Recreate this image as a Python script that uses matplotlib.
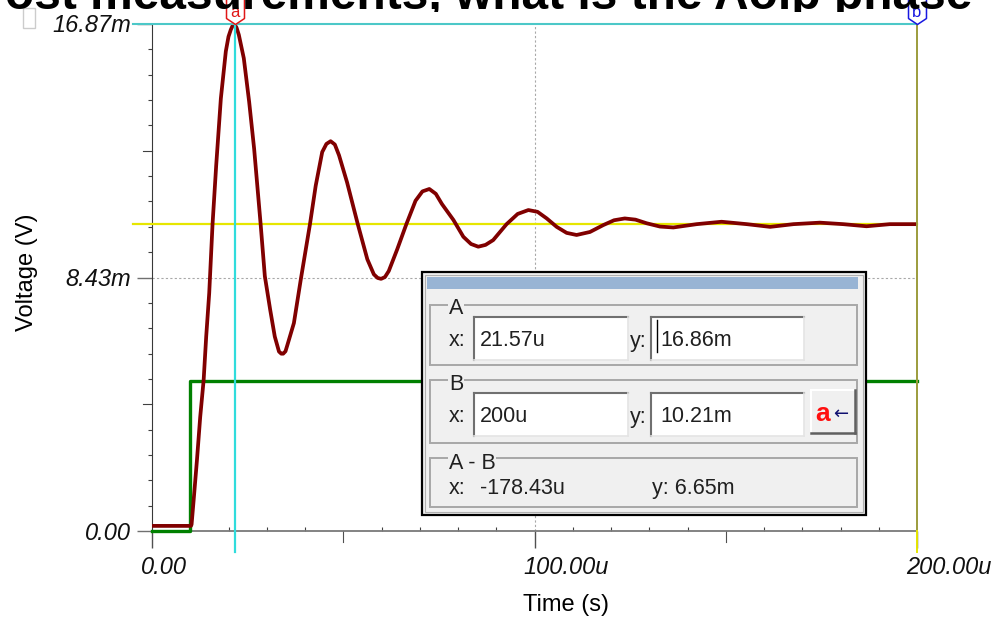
import numpy as np
import matplotlib
matplotlib.use('Agg')
from matplotlib import pyplot as plt
from matplotlib import transforms as mtrans
from matplotlib.patches import Rectangle
from matplotlib.lines import Line2D
from matplotlib.path import Path

#input step (green) and amplifier output (dark red), time in us, voltage in mV
t_in = [0, 9.9, 200]
v_in = [0, 5.0, 5.0]

t_out = [0, 10.2, 10.35, 10.87, 11.74, 12.6, 13.5, 14.17, 14.96, 15.83, 16.78, 18.0, 19.3,
         20.0, 20.6, 21.1, 21.57, 22.1, 22.7, 24.0, 25.4, 26.7, 28.4, 29.5, 30.9, 32.1, 33.2,
         33.8, 34.3, 34.9, 35.4, 37.1, 38.9, 41.3, 42.8, 44.5, 45.6, 46.7, 47.8, 48.9, 51.0,
         53.8, 56.3, 58.0, 59.0, 59.9, 60.9, 61.9, 64.1, 66.5, 68.9, 70.7, 72.5, 74.2, 75.8,
         78.8, 81.4, 83.4, 85.3, 87.2, 89.2, 92.7, 95.6, 98.4, 100.8, 103.2, 105.8, 108.4,
         111.0, 114.5, 118.0, 120.8, 123.6, 126.4, 129.3, 132.8, 136.3, 142.4, 148.9, 155.5,
         161.6, 167.7, 174.6, 180.7, 186.8, 192.9, 200]
v_out = [0.17, 0.17, 0.22, 1.00, 2.34, 3.79, 5.02, 6.47, 7.92, 10.21, 12.16, 14.39, 15.96,
         16.45, 16.68, 16.82, 16.86, 16.75, 16.51, 15.73, 14.28, 12.72, 10.21, 8.48, 7.36, 6.47,
         5.97, 5.90, 5.90, 5.98, 6.19, 6.92, 8.37, 10.21, 11.49, 12.61, 12.88, 12.97, 12.86,
         12.50, 11.60, 10.21, 9.04, 8.54, 8.42, 8.39, 8.45, 8.65, 9.37, 10.21, 10.99, 11.30,
         11.38, 11.22, 10.88, 10.35, 9.79, 9.55, 9.46, 9.52, 9.68, 10.21, 10.55, 10.68, 10.62,
         10.40, 10.12, 9.92, 9.85, 9.95, 10.18, 10.34, 10.40, 10.36, 10.24, 10.13, 10.10, 10.21,
         10.29, 10.21, 10.12, 10.21, 10.26, 10.21, 10.14, 10.21, 10.21]

#cursor readouts
cur_a = (21.57, 16.86)
cur_b = (200.0, 10.21)
cursor_rows = [('A', '21.57u', '16.86m'), ('B', '200u', '10.21m')]
diff_x, diff_y = '-178.43u', '6.65m'

x_major = [0, 100, 200]
x_major_labels = ['0.00', '100.00u', '200.00u']
y_major = [0, 8.43, 16.87]
y_major_labels = ['0.00', '8.43m', '16.87m']
x_mid = [50, 150]
y_mid = [4.215, 12.65]

W, H = 1008, 621
fig = plt.figure(figsize=(W / 100, H / 100), dpi=100)
FONT = 'Liberation Sans'

def fx(px):
    return px / W

def fy(py):
    return 1 - py / H

def rect(x0, y0, x1, y1, **kw):
    fig.add_artist(Rectangle((fx(x0), fy(y1)), fx(x1) - fx(x0), fy(y0) - fy(y1),
                             transform=fig.transFigure, **kw))

def seg(x0, y0, x1, y1, **kw):
    fig.add_artist(Line2D([fx(x0), fx(x1)], [fy(y0), fy(y1)], transform=fig.transFigure, **kw))

def label(x, y, s, **kw):
    kw.setdefault('family', FONT)
    kw.setdefault('fontsize', 15.5)
    kw.setdefault('color', '#202020')
    return fig.text(fx(x), fy(y), s, va='baseline', **kw)

#page heading cut by the top of the screenshot
head = fig.text(fx(972), fy(9), 'ost measurements, what is the Aolp phase', ha='right',
                va='baseline', fontsize=34.5, fontweight='bold', family=FONT, color='black')
head.set_clip_box(mtrans.TransformedBbox(mtrans.Bbox([[0, fy(12)], [1, 1.2]]), fig.transFigure))
rect(23, 8, 35, 28, fill=False, edgecolor='#cccccc', lw=1)

ax = fig.add_axes([fx(152), fy(531), fx(917) - fx(152), fy(24) - fy(531)])
ax.set_xlim(0, 200)
ax.set_ylim(0, 16.87)
ax.spines['top'].set_visible(False)
ax.spines['right'].set_visible(False)
ax.spines['left'].set_color('#383838')
ax.spines['bottom'].set_color('#7a7a7a')
ax.spines['bottom'].set_linewidth(1.3)

ax.set_xticks(x_major)
ax.set_xticks([t for t in range(10, 200, 10) if t not in (50, 100, 150)], minor=True)
ax.set_yticks(y_major)
y_minor = np.linspace(0, 16.87, 21)
ax.set_yticks([y for i, y in enumerate(y_minor) if i % 5], minor=True)
ax.tick_params(labelbottom=False, labelleft=False)
ax.tick_params(axis='x', which='major', direction='out', length=12.5, width=1, color='#505050')
ax.tick_params(axis='x', which='minor', direction='in', length=3, width=0.8, color='#404040')
ax.tick_params(axis='y', which='major', direction='out', length=11, width=1, color='#707070')
ax.tick_params(axis='y', which='minor', direction='out', length=3, width=0.8, color='#404040')
for xm in x_mid:
    ax.plot([xm, xm], [0, -11 / 507], transform=ax.get_xaxis_transform(), color='#505050',
            lw=0.8, clip_on=False)
for ym in y_mid:
    ax.plot([-9 / 765, 0], [ym, ym], transform=ax.get_yaxis_transform(), color='#404040',
            lw=0.8, clip_on=False)

#tick labels, TINA style italic
xt = mtrans.offset_copy(ax.get_xaxis_transform(), fig=fig, x=-11, y=-43, units='dots')
for x, s in zip(x_major, x_major_labels):
    ax.text(x, 0, s, transform=xt, ha='left', va='baseline', fontsize=17, style='italic',
            family=FONT, color='#101010')
yt = mtrans.offset_copy(ax.get_yaxis_transform(), fig=fig, x=-21, y=-8.5, units='dots')
for y, s in zip(y_major, y_major_labels):
    ax.text(0, y, s, transform=yt, ha='right', va='baseline', fontsize=17, style='italic',
            family=FONT, color='#101010')
fig.text(fx(566), fy(611), 'Time (s)', ha='center', va='baseline', fontsize=17, family=FONT)
fig.text(fx(27), fy(272), 'Voltage (V)', ha='center', va='center', rotation=90, fontsize=17,
         family=FONT)

#dotted grid
ax.axhline(8.43, color='#a8a8a8', lw=0.8, ls=(0, (2, 2)), zorder=1)
ax.axvline(100, color='#a8a8a8', lw=0.8, ls=(0, (2, 2)), zorder=1)

#traces
ax.plot(t_in, v_in, drawstyle='steps-post', color='#008000', lw=2.4, zorder=3, clip_on=False)
ax.axhline(cur_b[1], xmin=-19 / 765, xmax=1, color='#e6e600', lw=1.6, zorder=3.5, clip_on=False)
ax.plot(t_out, v_out, color='#800000', lw=2.7, zorder=4, clip_on=False,
        solid_joinstyle='round', solid_capstyle='butt')

#cursors
ax.axhline(cur_a[1], xmin=-19 / 765, xmax=1, color='#4cc8c8', lw=1.5, zorder=5, clip_on=False)
ax.axvline(cur_a[0], ymin=-21 / 507, ymax=1, color='#30dcdc', lw=1.6, zorder=5, clip_on=False)
ax.axvline(cur_b[0], ymin=0, ymax=1, color='#9c9c3c', lw=1.4, zorder=5, clip_on=False)
ax.axvline(cur_b[0], ymin=-21 / 507, ymax=0, color='#e6e600', lw=1.4, zorder=5, clip_on=False)

flag = Path([(0, 0), (9, 6), (9, 26), (-9, 26), (-9, 6), (0, 0)],
            [Path.MOVETO] + [Path.LINETO] * 4 + [Path.CLOSEPOLY])
for (cx, cy), name, col in [(cur_a, 'a', '#e01818'), ((cur_b[0], cur_a[1]), 'b', '#1818e0')]:
    ax.plot([cx], [cy], marker=flag, markersize=37.4, mfc='white', mec=col, mew=1.1,
            zorder=6, clip_on=False)
    ax.annotate(name, xy=(cx, cy), xytext=(0, 12), textcoords='offset pixels', ha='center',
                va='center', color=col, fontsize=12, family=FONT, zorder=7,
                annotation_clip=False)

#cursor readout window
rect(422, 272, 866, 515, facecolor='#f0f0f0', edgecolor='black', lw=1.6, zorder=10)
rect(425, 275, 863, 512, fill=False, edgecolor='#b0b0b0', lw=0.8, zorder=10)
rect(427, 277, 858, 289, facecolor='#98b4d4', edgecolor='none', zorder=11)
frames = [(305, 365), (380, 443), (458, 507)]
for y0, y1 in frames:
    rect(430, y0, 857, y1, fill=False, edgecolor='#a8a8a8', lw=1.4, zorder=11)

def field(x0, y0, x1, y1, s, tx):
    rect(x0, y0, x1, y1, facecolor='white', edgecolor='none', zorder=12)
    seg(x0, y0, x1, y0, color='#707070', lw=1.5, zorder=13)
    seg(x0, y0, x0, y1, color='#707070', lw=1.5, zorder=13)
    seg(x0, y1, x1, y1, color='#e4e4e4', lw=1.2, zorder=13)
    seg(x1, y0, x1, y1, color='#e4e4e4', lw=1.2, zorder=13)
    label(tx, (y0 + y1) / 2 + 8, s, zorder=14)

for (name, xs, ys), (y0, y1) in zip(cursor_rows, [(317, 360), (393, 436)]):
    t = label(449, y0 - 3, name, zorder=14)
    t.set_bbox(dict(facecolor='#f0f0f0', edgecolor='none', pad=0.5))
    label(449, (y0 + y1) / 2 + 8, 'x:', zorder=14)
    label(630, (y0 + y1) / 2 + 8, 'y:', zorder=14)
    field(474, y0, 628, y1, xs, 480)
    field(651, y0, 804, y1, ys, 660)

#text caret in the first y field
seg(657, 320, 657, 352, color='black', lw=1, zorder=14)

#copy button
rect(811, 390, 855, 433, facecolor='#f0f0f0', edgecolor='none', zorder=12)
seg(811, 390, 855, 390, color='white', lw=1.5, zorder=13)
seg(811, 390, 811, 433, color='white', lw=1.5, zorder=13)
seg(811, 433, 855, 433, color='#606060', lw=1.8, zorder=13)
seg(855, 390, 855, 433, color='#606060', lw=1.8, zorder=13)
label(815, 421, 'a', color='#ff1010', fontweight='bold', fontsize=19, zorder=14)
label(833, 419, '\u2190', color='#101070', fontsize=13, family='DejaVu Sans', zorder=14)

t = label(449, 469, 'A - B', zorder=14)
t.set_bbox(dict(facecolor='#f0f0f0', edgecolor='none', pad=0.5))
label(449, 494, 'x:', zorder=14)
label(480, 494, diff_x, zorder=14)
label(652, 494, 'y: ' + diff_y, zorder=14)

fig.savefig('out.png', dpi=100, facecolor='white')
